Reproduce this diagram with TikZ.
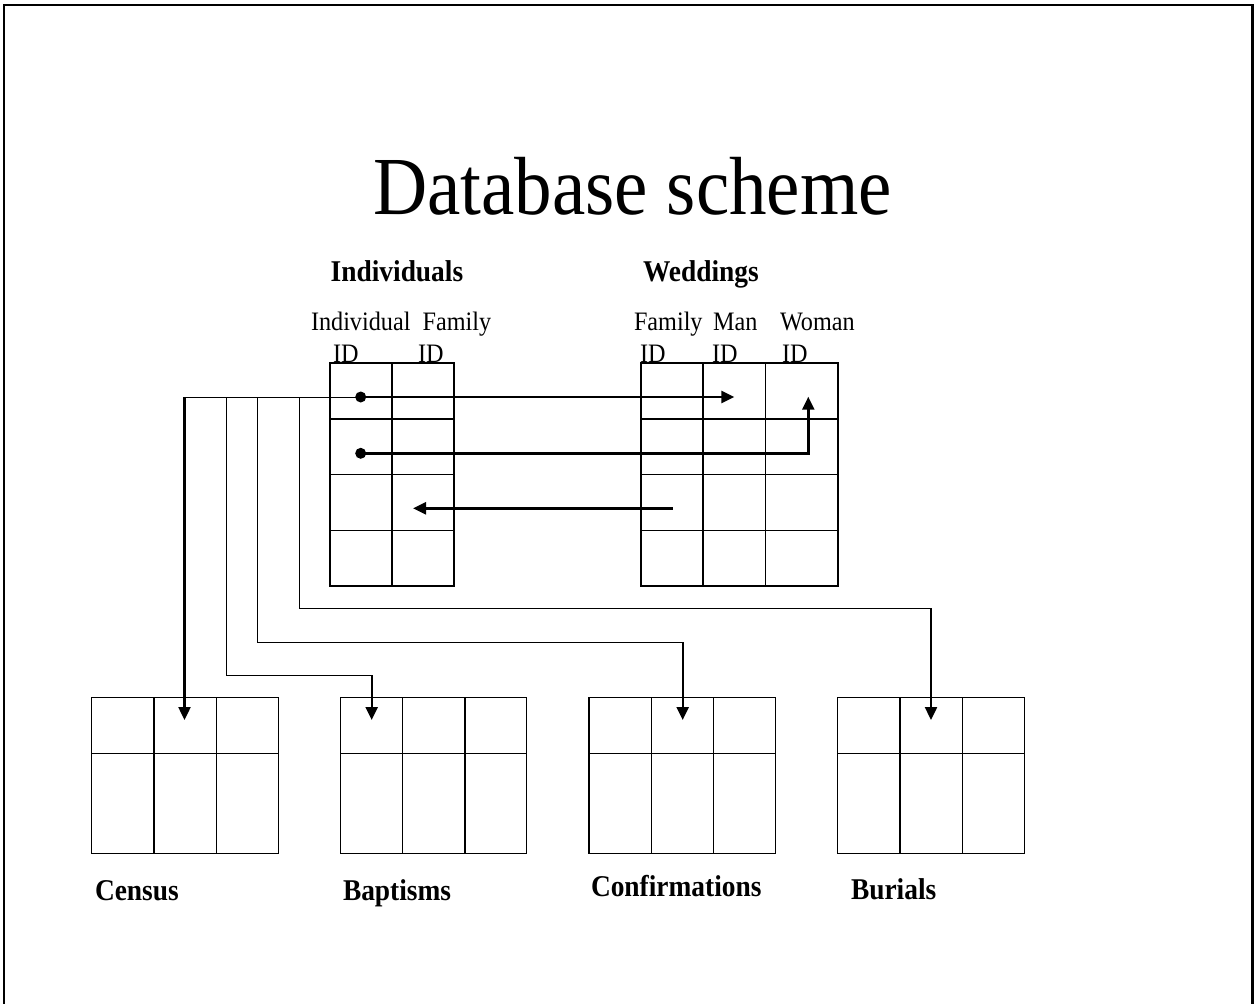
\documentclass[tikz,border=0pt]{standalone}
\usepackage{fontspec}
\setmainfont{Liberation Serif}
\usetikzlibrary{arrows.meta}
\newcommand\vstretch[1]{\scalebox{1}[1.1]{#1}}
\begin{document}
\begin{tikzpicture}[x=1pt,y=-1pt,
  tbl/.style={line width=1.3pt},
  thinline/.style={line width=1pt},
  arr/.style={line width=2.4pt,-{Triangle[length=13pt,width=12pt]}},
  lbl/.style={anchor=base west,inner sep=0pt,outer sep=0pt},
  hdr/.style={lbl,font=\fontsize{24.2}{28}\selectfont},
  bld/.style={lbl,font=\bfseries\fontsize{27.4}{32}\selectfont},
  box/.style={draw,tbl,anchor=north west,inner sep=0pt,outer sep=0pt},
  dot/.style={circle,fill=black,inner sep=0pt,minimum size=11pt}]
\useasboundingbox (0,0) rectangle (1256,1004);
% frame
\draw[line width=2pt] (4,1004) -- (4,5) -- (1252,5);
\draw[line width=3pt] (1252,4) -- (1252,1004);
% title
\node[lbl,anchor=base,font=\fontsize{75}{80}\selectfont] (title) at (632.5,214) {\vstretch{Database scheme}};
% table labels
\node[bld] (lInd) at (330.7,281) {\vstretch{Individuals}};
\node[bld] (lWed) at (643,281) {\vstretch{Weddings}};
\node[bld] (lCen) at (95,900) {\vstretch{Census}};
\node[bld] (lBap) at (343,900) {\vstretch{Baptisms}};
\node[bld] (lCon) at (591,896) {\vstretch{Confirmations}};
\node[bld] (lBur) at (851,899) {\vstretch{Burials}};
% column headers
\node[hdr] (hIndA) at (311,330) {\vstretch{Individual}};
\node[hdr] (hIndB) at (422.7,330) {\vstretch{Family}};
\node[hdr] (hIndC) at (333,362) {\vstretch{ID}};
\node[hdr] (hIndD) at (418,362) {\vstretch{ID}};
\node[hdr] (hWedA) at (634,330) {\vstretch{Family}};
\node[hdr] (hWedB) at (713,330) {\vstretch{Man}};
\node[hdr] (hWedC) at (780,330) {\vstretch{Woman}};
\node[hdr] (hWedD) at (640,362) {\vstretch{ID}};
\node[hdr] (hWedE) at (712,362) {\vstretch{ID}};
\node[hdr] (hWedF) at (782,362) {\vstretch{ID}};
% Individuals table
\node[box,minimum width=124pt,minimum height=223pt] (ind) at (330,363) {};
\draw[tbl] (392,363) -- (392,586);
\foreach \yy in {419,474.7,530.3} \draw[tbl] (330,\yy) -- (454,\yy);
% Weddings table
\node[box,minimum width=197pt,minimum height=223pt] (wed) at (641,363) {};
\foreach \xx in {703,765.3} \draw[tbl] (\xx,363) -- (\xx,586);
\foreach \yy in {419,474.7,530.3} \draw[tbl] (641,\yy) -- (838,\yy);
% bottom tables
\foreach \nm/\xa in {cen/91.7,bap/340.3,con/589,bur/837.7}{
  \node[box,minimum width=186.5pt,minimum height=155.6pt] (\nm) at (\xa,697.7) {};
  \draw[tbl] (\xa+62.3,697.7) -- (\xa+62.3,853.3);
  \draw[tbl] (\xa+124.6,697.7) -- (\xa+124.6,853.3);
  \draw[tbl] (\xa,753.3) -- (\xa+186.5,753.3);
}
% coordinates
\node[dot] (d1) at (360.7,397) {};
\node[dot] (d2) at (360.7,453.3) {};
\coordinate (manT) at (734.3,397);
\coordinate (womT) at (808.3,396.7);
\coordinate (womC) at (808.3,453.3);
\coordinate (famS) at (672.7,508.3);
\coordinate (famT) at (413,508.3);
\coordinate (b0) at (184.5,397);
\coordinate (b1) at (226,397);
\coordinate (b2) at (257.7,397);
\coordinate (b3) at (299,397);
\coordinate (k1a) at (226,675);   \coordinate (k1b) at (371.7,675);
\coordinate (k2a) at (257.7,642); \coordinate (k2b) at (682.7,642);
\coordinate (k3a) at (299,608.3); \coordinate (k3b) at (931,608.3);
\coordinate (tCen) at (184.5,720);
\coordinate (tBap) at (371.7,720);
\coordinate (tCon) at (682.7,720);
\coordinate (tBur) at (931,720);
% thin branch lines
\draw[thinline] (b0) -- (d1.center);
\draw[thinline] (b1) -- (k1a) -- (k1b);
\draw[thinline] (b2) -- (k2a) -- (k2b);
\draw[thinline] (b3) -- (k3a) -- (k3b);
% arrows
\draw[arr] (b0) -- (tCen);
\draw[arr] (k1b) -- (tBap);
\draw[arr] (k2b) -- (tCon);
\draw[arr] (k3b) -- (tBur);
\draw[arr] (d1.center) -- (manT);
\draw[arr] (d2.center) -- (womC) -- (womT);
\draw[arr] (famS) -- (famT);
\end{tikzpicture}
\end{document}
